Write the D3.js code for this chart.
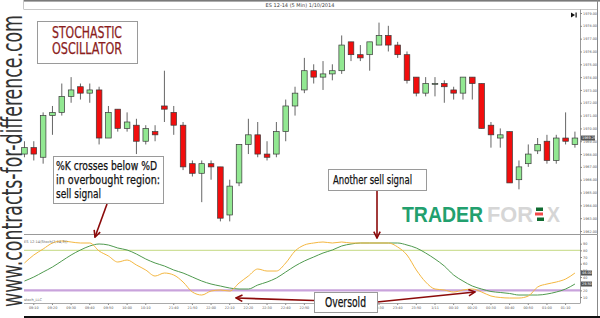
<!DOCTYPE html>
<html>
<head>
<meta charset="utf-8">
<script src="https://d3js.org/d3.v7.min.js"></script>
<style>
  html, body { margin: 0; padding: 0; background: #fff; }
  svg { display: block; }
  .cond { font-family: "Liberation Sans Narrow", "DejaVu Sans Condensed", "Roboto", sans-serif; }
  .tiny text { font-family: "DejaVu Sans", sans-serif; font-size: 3.4px; fill: #555; }
</style>
</head>
<body>
<svg id="chart" width="600" height="318"></svg>
<script>
// ES 12-14 5 min bars
const opens  = [1968.0,1968.5,1967.75,1971.0,1971.25,1972.5,1973.25,1972.75,1973.0,1969.25,
                1971.5,1970.0,1970.25,1969.0,1969.75,1971.75,1971.25,1970.25,1967.25,1966.5,
                1967.25,1967.0,1963.25,1965.75,1968.75,1969.5,1968.0,1968.0,1969.75,1971.75,
                1973.0,1974.5,1974.0,1974.25,1974.5,1976.75,1975.75,1975.75,1976.5,1977.25,
                1976.5,1975.75,1974.0,1972.75,1973.5,1973.5,1973.0,1972.75,1974.0,1973.5,
                1970.25,1969.25,1969.75,1966.0,1967.25,1968.25,1969.0,1967.5,1969.25,1968.75];
const highs  = [1969.0,1969.0,1971.25,1971.75,1973.5,1974.0,1973.5,1973.5,1973.25,1971.75,
                1971.5,1971.25,1970.75,1970.25,1970.25,1974.5,1971.75,1970.5,1967.5,1967.5,
                1967.5,1967.0,1966.0,1968.75,1970.75,1970.5,1969.0,1970.5,1972.25,1973.25,
                1975.5,1975.0,1975.25,1975.0,1977.25,1976.75,1976.5,1976.75,1978.25,1978.0,
                1976.75,1976.0,1974.0,1974.0,1974.0,1973.75,1973.25,1974.0,1974.0,1973.5,
                1970.5,1970.0,1969.75,1967.5,1968.75,1969.25,1969.5,1969.5,1971.25,1969.75];
const lows   = [1967.75,1967.5,1967.25,1969.5,1971.0,1972.0,1972.25,1972.0,1968.75,1969.25,
                1969.75,1969.75,1968.0,1968.75,1969.0,1970.5,1969.5,1966.75,1966.25,1964.25,
                1966.0,1962.75,1962.75,1965.5,1968.0,1967.75,1967.5,1967.75,1969.0,1971.0,
                1972.75,1973.5,1973.0,1973.75,1974.25,1975.25,1975.25,1974.5,1976.5,1976.0,
                1975.5,1973.5,1972.5,1972.5,1972.5,1972.0,1972.25,1972.25,1972.25,1970.0,
                1968.5,1968.5,1965.75,1965.25,1967.0,1968.0,1967.25,1967.25,1968.75,1968.5];
const closes = [1968.5,1968.0,1971.0,1971.25,1972.5,1973.0,1972.75,1973.0,1969.25,1971.25,
                1970.0,1970.5,1969.0,1970.0,1969.5,1971.5,1970.25,1967.0,1966.5,1967.25,
                1967.0,1963.0,1965.5,1968.75,1969.5,1968.0,1967.75,1969.75,1971.75,1972.75,
                1974.5,1974.0,1974.25,1974.5,1976.5,1975.75,1975.5,1976.75,1977.25,1976.5,
                1975.75,1973.75,1972.75,1973.5,1973.5,1973.25,1972.75,1974.0,1973.5,1970.0,
                1969.5,1969.5,1965.75,1967.0,1968.0,1968.75,1967.5,1969.25,1969.0,1969.25];

// stochastic %K (orange) and %D (green)
const pctK = [61,73,82,91,94,92.5,91,91,79,71.5,62.5,65.5,58,50.5,41.5,46,43,32.5,17.5,13,
              19,20.5,19,31,41.5,52,49,49,61,79,88,91,92.5,91,92.5,91,91,91,91,91,
              85,73,50.5,32.5,22,20.5,17.5,20.5,22,17.5,11.5,9.3,8.5,8.5,11.5,25,29.5,32.5,37,46];
const pctD = [34,40,47.5,55,64,73,80.5,86.5,89.5,88,83.5,80.5,74.5,67,61,56.5,50.5,46,40,34,
              29.5,26.5,23.5,22,22,28,32.5,38.5,47.5,56.5,64,70,76,80.5,86.5,89.5,91,91,91,91,
              91,88,83.5,76,67,56.5,43,34,26.5,22,18.3,16.8,15.3,13,13,13,14.5,17.5,22,29.5];

// time axis labels and the bars they sit on
const tickIdx    = [1,3,5,7,9,11,13,16,18,20,22,24,26,28,30,32,34,36,38,40,42,44,46,48,50,52,54,56,58];
const tickLabels = ["09:10","09:20","09:30","09:40","09:50","10:00","10:10","21:40","21:50","22:00",
                    "22:10","22:20","22:30","22:40","22:50","23:00","23:10","23:20","23:30","23:40",
                    "23:50","1/11","00:10","00:20","00:30","00:40","00:50","01:00","01:10"];
const priceTicks = [1962,1963,1964,1965,1966,1967,1968,1969,1970,1971,1972,1973,1974,1975,1976,1977,1978,1979];
const oscTicks   = [10,20,30,40,50,60,70,80,90];
const oscLevels  = [80, 20];

const svg = d3.select("#chart");

const x = d3.scaleBand().domain(d3.range(opens.length))
  .range([19.8, 579.6]).paddingInner(0.4).paddingOuter(0.2);
const cx = i => x(i) + x.bandwidth() / 2;
const y = d3.scaleLinear().domain([1962, 1979]).range([231, 13]);
const yo = d3.scaleLinear().domain([0, 100]).range([303.7, 237]);

// frame
svg.append("rect").attr("x", 24).attr("y", 0).attr("width", 576).attr("height", 1.6).attr("fill", "#7a7a7a");
svg.append("line").attr("x1", 24).attr("x2", 598).attr("y1", 9.5).attr("y2", 9.5).attr("stroke", "#c8c8c8");
svg.append("line").attr("x1", 23.5).attr("x2", 23.5).attr("y1", 0).attr("y2", 9.5).attr("stroke", "#c8c8c8");
svg.append("line").attr("x1", 597.5).attr("x2", 597.5).attr("y1", 0).attr("y2", 317).attr("stroke", "#888");
svg.append("line").attr("x1", 580.5).attr("x2", 580.5).attr("y1", 9.5).attr("y2", 303.5).attr("stroke", "#999");
svg.append("line").attr("x1", 24).attr("x2", 598).attr("y1", 234.5).attr("y2", 234.5).attr("stroke", "#999");
svg.append("line").attr("x1", 24).attr("x2", 580).attr("y1", 303.5).attr("y2", 303.5).attr("stroke", "#aaa");
svg.append("rect").attr("x", 24).attr("y", 316).attr("width", 576).attr("height", 2).attr("fill", "#111");

svg.append("text").attr("x", 300).attr("y", 6.8).attr("text-anchor", "middle")
  .style("font-family", "DejaVu Sans, sans-serif").style("font-size", "5px").attr("fill", "#444")
  .text("ES 12-14 (5 Min)  1/10/2014");

// play-end icon
svg.append("path").attr("d", "M571,12.5 L575,15 L571,17.5 Z").attr("fill", "#111");
svg.append("rect").attr("x", 575.5).attr("y", 12.5).attr("width", 1.2).attr("height", 5).attr("fill", "#111");

// price axis
const pAxis = svg.append("g").attr("class", "tiny").attr("transform", "translate(580,0)")
  .call(d3.axisRight(y).tickValues(priceTicks).tickSize(2).tickPadding(1).tickFormat(d3.format(".2f")));
pAxis.select(".domain").remove();
pAxis.selectAll("line").attr("stroke", "#888");

// watermark
const wm = svg.append("g").style("font-family", "Liberation Sans, Arial, sans-serif")
  .style("font-weight", "bold").style("font-size", "22px");
wm.append("text").attr("x", 402).attr("y", 222).attr("fill", "#22a06e")
  .attr("textLength", 81).attr("lengthAdjust", "spacingAndGlyphs").text("TRADER");
wm.append("text").attr("x", 487).attr("y", 222).attr("fill", "#d6d6d6")
  .attr("textLength", 46).attr("lengthAdjust", "spacingAndGlyphs").text("FOR");
wm.append("text").attr("x", 547).attr("y", 222).attr("fill", "#d6d6d6")
  .attr("textLength", 13).attr("lengthAdjust", "spacingAndGlyphs").text("X");
wm.append("rect").attr("x", 536).attr("y", 207.5).attr("width", 7).attr("height", 3.5).attr("fill", "#0f6b30");
wm.append("rect").attr("x", 535).attr("y", 212.5).attr("width", 8).attr("height", 3).attr("fill", "#f24a4a");
wm.append("rect").attr("x", 537).attr("y", 217.5).attr("width", 7).attr("height", 3.5).attr("fill", "#0f6b30");

// candles
const candles = svg.append("g").selectAll("g").data(d3.range(opens.length)).join("g");
candles.append("line")
  .attr("x1", i => cx(i)).attr("x2", i => cx(i))
  .attr("y1", i => y(highs[i])).attr("y2", i => y(lows[i]))
  .attr("stroke", "#555").attr("stroke-width", 0.9);
candles.append("rect")
  .attr("x", i => x(i)).attr("width", x.bandwidth())
  .attr("y", i => y(Math.max(opens[i], closes[i])))
  .attr("height", i => Math.max(0.8, Math.abs(y(opens[i]) - y(closes[i]))))
  .attr("fill", i => closes[i] >= opens[i] ? "#92e892" : "#f20d0d")
  .attr("stroke", "#3a3a3a").attr("stroke-width", 0.7);

// last price box
const last = closes[closes.length - 1];
svg.append("rect").attr("x", 581).attr("y", y(last) - 2.5).attr("width", 14).attr("height", 5).attr("fill", "#555");
svg.append("text").attr("x", 582).attr("y", y(last) + 1.3)
  .style("font-family", "DejaVu Sans, sans-serif").style("font-size", "3.4px").attr("fill", "#fff")
  .text(d3.format(".2f")(last));

// oscillator
svg.selectAll(".lvl").data(oscLevels).join("line").attr("class", "lvl")
  .attr("x1", 24).attr("x2", 580).attr("y1", d => yo(d)).attr("y2", d => yo(d))
  .attr("stroke", d => d === 80 ? "#cfe09a" : "#c9a3dc").attr("stroke-width", d => d === 80 ? 1.4 : 2.2);

const line = d3.line().x((d, i) => cx(i)).y(d => yo(d)).curve(d3.curveMonotoneX);
svg.append("path").datum(pctD).attr("d", line).attr("fill", "none").attr("stroke", "#4f9a4f").attr("stroke-width", 1);
svg.append("path").datum(pctK).attr("d", line).attr("fill", "none").attr("stroke", "#f4b740").attr("stroke-width", 1);

const oAxis = svg.append("g").attr("class", "tiny").attr("transform", "translate(580,0)")
  .call(d3.axisRight(yo).tickValues(oscTicks).tickSize(2).tickPadding(1));
oAxis.select(".domain").remove();
oAxis.selectAll("line").attr("stroke", "#888");

[pctK[pctK.length - 1], pctD[pctD.length - 1]].forEach(v => {
  svg.append("rect").attr("x", 581).attr("y", yo(v) - 2.5).attr("width", 11).attr("height", 5).attr("fill", "#555");
  svg.append("text").attr("x", 582).attr("y", yo(v) + 1.3)
    .style("font-family", "DejaVu Sans, sans-serif").style("font-size", "3.4px").attr("fill", "#fff")
    .text(d3.format(".2f")(v));
});

svg.append("text").attr("x", 24).attr("y", 243).style("font-family", "DejaVu Sans, sans-serif")
  .style("font-size", "3.6px").attr("fill", "#666").text("ES 12-14(Stoch(7,14,3))");
svg.append("text").attr("x", 24).attr("y", 301).style("font-family", "DejaVu Sans, sans-serif")
  .style("font-size", "3.6px").attr("fill", "#666").text("stoch_LLC");

// time axis
const tAxis = svg.append("g").attr("class", "tiny").attr("transform", "translate(0,303.5)")
  .call(d3.axisBottom(x).tickValues(tickIdx).tickSize(1.5).tickPadding(1.5)
    .tickFormat(d => tickLabels[tickIdx.indexOf(d)]));
tAxis.select(".domain").remove();
tAxis.selectAll("line").attr("stroke", "#888");

// side url
svg.append("text").attr("transform", "translate(22,307) rotate(-90)")
  .style("font-family", "DejaVu Sans Condensed, DejaVu Sans, sans-serif").style("font-size", "28.5px")
  .attr("fill", "#333").attr("textLength", 292).attr("lengthAdjust", "spacingAndGlyphs")
  .text("www.contracts-for-difference.com");

// annotations
const red = "#8b0a0a";
const defs = svg.append("defs");
defs.append("marker").attr("id", "ah").attr("viewBox", "0 0 10 10").attr("refX", 9).attr("refY", 5)
  .attr("markerWidth", 5).attr("markerHeight", 5).attr("orient", "auto")
  .append("path").attr("d", "M1,1 L9,5 L1,9").attr("fill", "none").attr("stroke", red).attr("stroke-width", 2);

function arrow(x1, y1, x2, y2) {
  svg.append("line").attr("x1", x1).attr("y1", y1).attr("x2", x2).attr("y2", y2)
    .attr("stroke", red).attr("stroke-width", 1.6).attr("marker-end", "url(#ah)");
}
arrow(107, 204, 95, 237);
arrow(377, 191, 377, 238);
arrow(314, 300.5, 236, 298);
arrow(377, 302, 475, 292);

function box(x0, y0, w, h) {
  svg.append("rect").attr("x", x0 + 0.5).attr("y", y0 + 0.5).attr("width", w).attr("height", h)
    .attr("fill", "#fff").attr("stroke", "#9a9a9a").attr("stroke-width", 1);
}
function label(t, x0, y0, size, len, color) {
  svg.append("text").attr("class", "cond").attr("x", x0).attr("y", y0)
    .style("font-size", size + "px").attr("fill", color || "#111")
    .attr("stroke", color || "#111").attr("stroke-width", 0.25)
    .attr("textLength", len).attr("lengthAdjust", "spacingAndGlyphs").text(t);
}

box(37, 21, 100, 42);
label("STOCHASTIC", 52, 37.5, 16, 70, "#8b1c1c");
label("OSCILLATOR", 52, 54, 16, 70, "#8b1c1c");

box(53, 156, 110, 47);
label("%K crosses below %D", 56, 170, 13, 101);
label("in overbought region:", 56, 184, 13, 104);
label("sell signal", 56, 197.5, 13, 45);

box(328, 169, 98, 21);
label("Another sell signal", 333, 184, 13, 79);

box(314, 292, 63, 20);
label("Oversold", 325, 307, 14, 41);
</script>
</body>
</html>
